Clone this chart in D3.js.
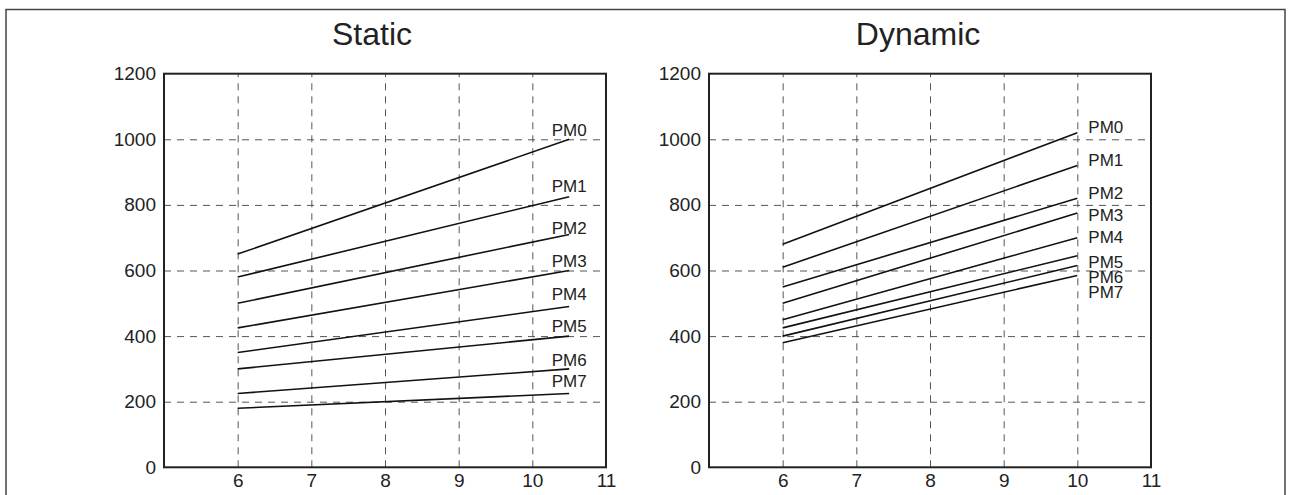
<!DOCTYPE html>
<html>
<head>
<meta charset="utf-8">
<script src="https://cdn.jsdelivr.net/npm/d3@7"></script>
<style>
  body { margin: 0; background: #fff; }
  svg { display: block; font-family: "Liberation Sans", Arial, Helvetica, sans-serif; }
  .grid line { stroke: #555; stroke-width: 1; stroke-dasharray: 7,6; }
  .grid path { display: none; }
  .tick-labels path, .tick-labels line { display: none; }
  .tick-labels text { font-size: 19px; fill: #222; }
</style>
</head>
<body>
<svg width="1291" height="495"></svg>
<script>
// series names shared by both panels
const series = ["PM0", "PM1", "PM2", "PM3", "PM4", "PM5", "PM6", "PM7"];

// Static panel: lines from x=6 to x=10.5
const staticX = [6, 10.5];
const staticStart = [650, 580, 500, 425, 350, 300, 225, 180];
const staticEnd = [1000, 825, 710, 600, 490, 400, 300, 225];
const staticLabelAt = [1010, 840, 711, 612, 510, 412, 310, 244];

// Dynamic panel: lines from x=6 to x=10
const dynamicX = [6, 10];
const dynamicStart = [680, 610, 550, 500, 450, 425, 400, 380];
const dynamicEnd = [1020, 920, 820, 775, 700, 645, 615, 585];
const dynamicLabelAt = [1020, 920, 818, 752, 683, 608, 562, 517];

const xTicks = [6, 7, 8, 9, 10, 11];
const yTicks = [0, 200, 400, 600, 800, 1000, 1200];
const xGrid = [6, 7, 8, 9, 10];
const yGrid = [200, 400, 600, 800, 1000];

const svg = d3.select("svg");

// outer frame
svg.append("rect")
    .attr("x", 6).attr("y", 9.5)
    .attr("width", 1279).attr("height", 520)
    .attr("fill", "none")
    .attr("stroke", "#444")
    .attr("stroke-width", 1.5);

const plotW = 442, plotH = 393.6, plotTop = 73.7;

function drawPanel(left, title, titleX, xs, starts, ends, labelAt, labelMode) {
    const g = svg.append("g").attr("transform", "translate(" + left + "," + plotTop + ")");

    const x = d3.scaleLinear().domain([5, 11]).range([0, plotW]);
    const y = d3.scaleLinear().domain([0, 1200]).range([plotH, 0]);

    // dashed grid
    g.append("g").attr("class", "grid")
        .attr("transform", "translate(0," + plotH + ")")
        .call(d3.axisBottom(x).tickValues(xGrid).tickSize(-plotH).tickFormat(""));
    g.append("g").attr("class", "grid")
        .call(d3.axisLeft(y).tickValues(yGrid).tickSize(-plotW).tickFormat(""));

    // tick labels
    g.append("g").attr("class", "tick-labels")
        .call(d3.axisLeft(y).tickValues(yTicks).tickSize(0).tickPadding(8).tickFormat(d3.format("d")));
    g.append("g").attr("class", "tick-labels")
        .attr("transform", "translate(0," + plotH + ")")
        .call(d3.axisBottom(x).tickValues(xTicks).tickSize(0).tickPadding(6).tickFormat(d3.format("d")));

    // frame
    g.append("rect")
        .attr("width", plotW).attr("height", plotH)
        .attr("fill", "none")
        .attr("stroke", "#222")
        .attr("stroke-width", 2);

    // data lines
    const line = d3.line().x(d => x(d[0])).y(d => y(d[1]));
    series.forEach((name, i) => {
        const pts = [[xs[0], starts[i]], [xs[1], ends[i]]];
        g.append("path")
            .attr("d", line(pts))
            .attr("fill", "none")
            .attr("stroke", "#111")
            .attr("stroke-width", 1.6);

        const t = g.append("text")
            .attr("y", y(labelAt[i]))
            .attr("font-size", 17)
            .attr("fill", "#222")
            .text(name);
        if (labelMode === "middle") {
            t.attr("x", x(xs[1])).attr("text-anchor", "middle");
        } else {
            t.attr("x", x(xs[1]) + 11).attr("text-anchor", "start");
        }
    });

    svg.append("text")
        .attr("x", titleX).attr("y", 45)
        .attr("text-anchor", "middle")
        .attr("font-size", 32)
        .attr("fill", "#222")
        .text(title);
}

drawPanel(164, "Static", 372, staticX, staticStart, staticEnd, staticLabelAt, "middle");
drawPanel(709, "Dynamic", 918, dynamicX, dynamicStart, dynamicEnd, dynamicLabelAt, "start");
</script>
</body>
</html>
